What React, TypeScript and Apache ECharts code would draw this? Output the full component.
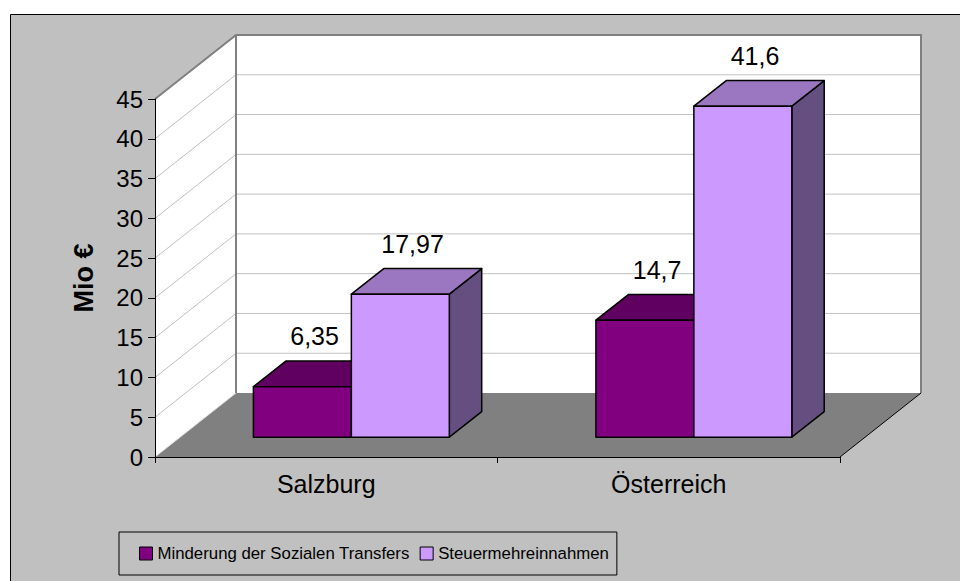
import React, { useEffect, useRef } from 'react';
import * as echarts from 'echarts';

const categories = ['Salzburg', 'Österreich'];
const seriesNames = ['Minderung der Sozialen Transfers', 'Steuermehreinnahmen'];
const sozialTransfers = [6.35, 14.7];
const steuerMehreinnahmen = [17.97, 41.6];
const yTicks = [0, 5, 10, 15, 20, 25, 30, 35, 40, 45];
const yMin = 0;
const yMax = 45;
const yStep = 5;

// 3D projection (pixels for the full depth of the plot box)
const DX = 81;
const DY = -64;
const F0 = 0.31; // bar front depth fraction
const F1 = 0.71; // bar back depth fraction
const BAR_FRAC = 0.286;

const FONT = 'Liberation Sans, Arial, sans-serif';

const barColors = [
  { front: '#800080', top: '#600060', side: '#4d004d' },
  { front: '#CC99FF', top: '#9B77C1', side: '#654E80' },
];

const fmt = (v: number) => String(v).replace('.', ',');

function makeBarRender(sIdx: number) {
  return (params: any, api: any) => {
    const cat = api.value(0);
    const val = api.value(1);
    const base = api.coord([cat, 0]);
    const top = api.coord([cat, val]);
    const band = api.size([1, 0])[0];
    const w = band * BAR_FRAC;
    const fx = F0 * DX, fy = F0 * DY;
    const ddx = (F1 - F0) * DX, ddy = (F1 - F0) * DY;
    const x0 = base[0] + fx + (sIdx === 0 ? -w : 0);
    const x1 = x0 + w;
    const yb = base[1] + fy;
    const yt = top[1] + fy;
    const c = barColors[sIdx];
    const stroke = { stroke: '#000', lineWidth: 1.5, lineJoin: 'round' };
    return {
      type: 'group',
      children: [
        {
          type: 'polygon',
          shape: { points: [[x1, yt], [x1 + ddx, yt + ddy], [x1 + ddx, yb + ddy], [x1, yb]] },
          style: { fill: c.side, ...stroke },
        },
        {
          type: 'polygon',
          shape: { points: [[x0, yt], [x1, yt], [x1 + ddx, yt + ddy], [x0 + ddx, yt + ddy]] },
          style: { fill: c.top, ...stroke },
        },
        {
          type: 'rect',
          shape: { x: x0, y: yt, width: w, height: yb - yt },
          style: { fill: c.front, ...stroke },
        },
        {
          type: 'text',
          x: (x0 + x1) / 2 + ddx / 2 - 4,
          y: yt + ddy - 25,
          style: {
            text: fmt(val),
            fontFamily: FONT,
            fontSize: 25,
            fill: '#000',
            align: 'center',
            verticalAlign: 'middle',
          },
        },
      ],
    };
  };
}

function renderWalls(params: any, api: any) {
  const cs = params.coordSys;
  const L = cs.x, R = cs.x + cs.width, T = cs.y, B = cs.y + cs.height;
  const children: any[] = [];
  children.push({
    type: 'polygon',
    shape: { points: [[L, T], [L + DX, T + DY], [L + DX, B + DY], [L, B]] },
    style: { fill: '#fff' },
  });
  children.push({
    type: 'rect',
    shape: { x: L + DX, y: T + DY, width: R - L, height: B - T },
    style: { fill: '#fff' },
  });
  yTicks.forEach((v) => {
    if (v === yMin) return;
    const y = api.coord([0, v])[1];
    children.push({
      type: 'line',
      shape: { x1: L, y1: y, x2: L + DX, y2: y + DY },
      style: { stroke: '#C0C0C0', lineWidth: 1 },
    });
    children.push({
      type: 'line',
      shape: { x1: L + DX, y1: y + DY, x2: R + DX, y2: y + DY },
      style: { stroke: '#C0C0C0', lineWidth: 1 },
    });
  });
  children.push({
    type: 'polygon',
    shape: { points: [[L, B], [R, B], [R + DX, B + DY], [L + DX, B + DY]] },
    style: { fill: '#808080' },
  });
  children.push({
    type: 'polyline',
    shape: { points: [[L, T], [L + DX, T + DY], [R + DX, T + DY], [R + DX, B + DY]] },
    style: { stroke: '#808080', lineWidth: 2, fill: 'none' },
  });
  children.push({
    type: 'line',
    shape: { x1: L + DX, y1: T + DY, x2: L + DX, y2: B + DY },
    style: { stroke: '#808080', lineWidth: 2 },
  });
  children.push({
    type: 'line',
    shape: { x1: L, y1: B, x2: L + DX, y2: B + DY },
    style: { stroke: '#e0e0e0', lineWidth: 1 },
  });
  children.push({
    type: 'line',
    shape: { x1: R, y1: B, x2: R + DX, y2: B + DY },
    style: { stroke: '#000', lineWidth: 1 },
  });
  return { type: 'group', children };
}

export default function App() {
  const ref = useRef<HTMLDivElement>(null);
  useEffect(() => {
    if (!ref.current) return;
    const chart = echarts.init(ref.current, undefined, { renderer: 'svg' });
    chart.setOption({
      animation: false,
      backgroundColor: '#fff',
      graphic: [
        {
          type: 'rect',
          z: -100,
          shape: { x: 10.5, y: 14.5, width: 960, height: 600 },
          style: { fill: '#C0C0C0', stroke: '#000', lineWidth: 1 },
        },
      ],
      grid: { left: 155, top: 99, width: 685, height: 358 },
      xAxis: {
        type: 'category',
        data: categories,
        z: 10,
        boundaryGap: true,
        axisLine: { show: true, lineStyle: { color: '#000', width: 1 } },
        axisTick: { show: true, length: 6, lineStyle: { color: '#000' } },
        axisLabel: { fontFamily: FONT, fontSize: 25, color: '#000', margin: 14, interval: 0 },
        splitLine: { show: false },
      },
      yAxis: {
        type: 'value',
        min: yMin,
        max: yMax,
        interval: yStep,
        z: 10,
        name: 'Mio €',
        nameLocation: 'middle',
        nameGap: 58,
        nameTextStyle: { fontFamily: FONT, fontSize: 27, fontWeight: 'bold', color: '#000' },
        axisLine: { show: true, lineStyle: { color: '#000', width: 1 } },
        axisTick: { show: true, length: 7, lineStyle: { color: '#000' } },
        axisLabel: { fontFamily: FONT, fontSize: 24, color: '#000', margin: 12 },
        splitLine: { show: false },
      },
      legend: {
        data: seriesNames,
        left: 119,
        top: 532,
        orient: 'horizontal',
        icon: 'rect',
        itemWidth: 13,
        itemHeight: 13,
        itemGap: 10,
        padding: [13, 8, 13, 20],
        borderColor: '#000',
        borderWidth: 1,
        backgroundColor: 'transparent',
        itemStyle: { borderColor: '#000', borderWidth: 1 },
        textStyle: { fontFamily: FONT, fontSize: 16.8, color: '#000' },
      },
      series: [
        {
          name: 'walls',
          type: 'custom',
          z: 1,
          silent: true,
          clip: false,
          renderItem: renderWalls,
          data: [[0, 0]],
        },
        {
          name: seriesNames[0],
          type: 'custom',
          z: 2,
          clip: false,
          itemStyle: { color: barColors[0].front },
          renderItem: makeBarRender(0),
          data: sozialTransfers.map((v, i) => [i, v]),
        },
        {
          name: seriesNames[1],
          type: 'custom',
          z: 3,
          clip: false,
          itemStyle: { color: barColors[1].front },
          renderItem: makeBarRender(1),
          data: steuerMehreinnahmen.map((v, i) => [i, v]),
        },
      ],
    });
    return () => chart.dispose();
  }, []);
  return (
    <div
      ref={ref}
      style={{ position: 'absolute', left: 0, top: 0, width: 960, height: 581 }}
    />
  );
}
